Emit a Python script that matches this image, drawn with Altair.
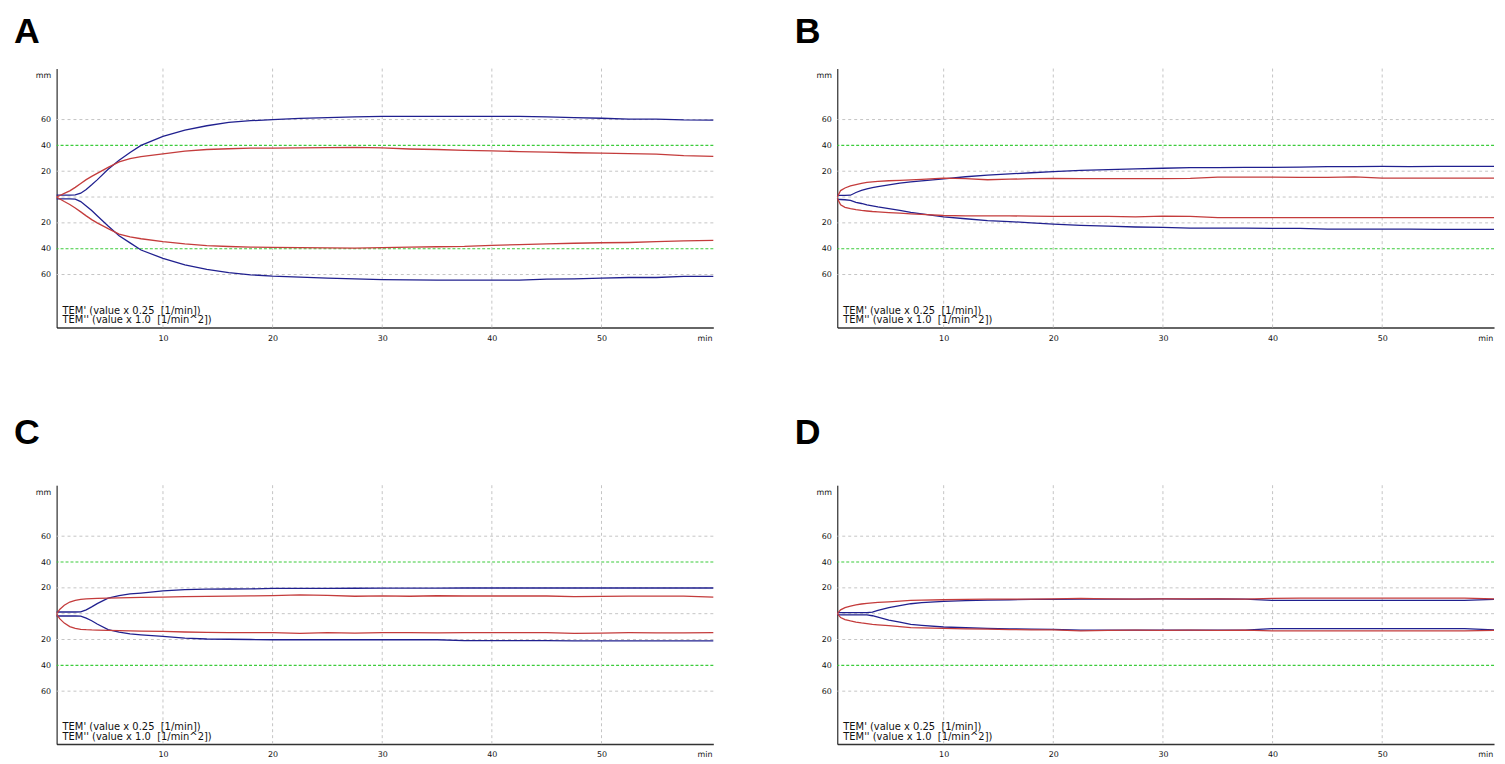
import altair as alt
import pandas as pd

# ---------------- data ----------------
t_min = [0.3, 0.6, 1, 1.5, 2, 2.5, 3, 3.5, 4, 5, 6, 7, 8, 10, 12, 14, 16, 18, 20,
         22.5, 25, 27.5, 30, 32.5, 35, 37.5, 40, 42.5, 45, 47.5, 50, 52.5, 55, 57.5, 60.2]

# Panel A
a_blue_up = [1.5, 1.5, 1.5, 1.5, 1.6, 3, 5.9, 9.5, 13.3, 21.5, 28.5, 34.5, 40, 47, 51.8, 55.2, 57.8, 59.1, 60,
             60.9, 61.5, 62.1, 62.5, 62.5, 62.5, 62.5, 62.5, 62.5, 62, 61.5, 61, 60.4, 60.4, 59.7, 59.6]
a_red_up = [0, 1.2, 2.8, 4.8, 7.5, 10.5, 13.5, 16, 18.3, 23, 27.2, 29.8, 31.3, 33.5, 35.6, 36.8, 37.4, 37.8, 37.9,
            38.1, 38.3, 38.4, 38, 37.2, 36.8, 36.2, 35.8, 35.2, 34.8, 34.3, 34, 33.6, 33.2, 32, 31.5]
a_blue_lo = [-1.5, -1.5, -1.5, -1.5, -1.6, -3.5, -6.9, -10.5, -14.5, -22.5, -30, -35.5, -41, -47.5, -52.5, -56, -58.6, -60.2, -61.3,
             -62.1, -62.8, -63.4, -64, -64.2, -64.3, -64.3, -64.3, -64.3, -63.6, -63.4, -62.8, -62.3, -62.3, -61.5, -61.5]
a_red_lo = [0, -1.5, -3.5, -5.8, -8.5, -11.5, -14.6, -17.5, -20, -24.5, -28.7, -30.8, -32.3, -34.6, -36.3, -37.6, -38.3, -38.8, -39,
            -39.2, -39.4, -39.5, -39.2, -38.8, -38.5, -38.2, -37.4, -36.8, -36.2, -35.8, -35.4, -35.2, -34.6, -34, -33.6]

# Panel B
b_blue_up = [1.3, 1.3, 1.3, 1.4, 3.5, 5.2, 6.3, 7.2, 8.1, 9.5, 10.7, 11.8, 12.6, 14.1, 15.7, 17, 17.9, 18.8, 19.7,
             20.6, 21.3, 21.8, 22.3, 22.8, 22.8, 22.9, 23, 23.2, 23.5, 23.6, 23.7, 23.6, 23.8, 23.8, 23.8]
b_red_up = [0, 5, 7, 8.6, 9.6, 10.6, 11.3, 11.8, 12.1, 12.6, 12.9, 13.3, 13.7, 14.6, 14.2, 13.4, 13.8, 14.2, 14.5,
            14.2, 14.3, 14.2, 14.2, 14.4, 15.4, 15.4, 15.4, 15.3, 15.3, 15.6, 14.6, 14.6, 14.6, 14.6, 14.6]
b_blue_lo = [-1.8, -1.9, -2.1, -2.6, -4.2, -5, -6, -6.8, -7.7, -9, -10.3, -11.8, -13, -15.4, -16.8, -18.2, -19, -20, -21,
             -21.9, -22.6, -23.2, -23.5, -24.1, -24.1, -24.1, -24.2, -24.3, -24.9, -24.9, -24.9, -24.9, -25, -25, -25]
b_red_lo = [-1, -6, -8, -9, -9.8, -10.4, -10.8, -11.2, -11.5, -12, -12.5, -13, -13.5, -14.3, -14.6, -14.6, -14.6, -14.8, -14.9,
            -14.9, -15, -15.3, -14.8, -15, -15.9, -15.9, -15.9, -15.9, -15.9, -15.9, -16, -16, -16, -16, -16]

# Panel C
c_blue_up = [1.3, 1.3, 1.3, 1.3, 1.3, 1.4, 3, 5.3, 7.8, 12.1, 14, 15.3, 16, 17.6, 18.7, 19, 19.1, 19.2, 19.6,
             19.6, 19.6, 19.7, 19.8, 19.8, 19.8, 19.9, 19.9, 19.9, 19.9, 19.9, 19.9, 19.9, 19.9, 19.9, 19.9]
c_red_up = [0, 3.5, 6.5, 9, 10.3, 11.1, 11.4, 11.7, 11.9, 12.1, 12.3, 12.5, 12.7, 12.9, 13.2, 13.4, 13.6, 13.8, 14,
            14.5, 14.2, 13.5, 13.8, 13.5, 13.9, 13.7, 13.7, 13.7, 13.7, 13.2, 13.4, 13.6, 13.6, 13.6, 12.9]
c_blue_lo = [-1.8, -1.8, -1.8, -1.8, -1.8, -1.9, -3.5, -5.5, -8, -12.4, -14.3, -15.7, -16.4, -17.6, -19, -19.6, -19.8, -20, -20.2,
             -20.2, -20.2, -20.2, -20.2, -20.2, -20.2, -20.9, -20.9, -20.9, -20.9, -21, -21, -21, -21, -21, -21]
c_red_lo = [-0.5, -4, -7.3, -10, -11.3, -12.1, -12.4, -12.6, -12.7, -12.9, -13.1, -13.3, -13.5, -13.7, -14.2, -14.5, -14.6, -14.7, -14.7,
            -15.2, -14.7, -15, -14.7, -14.6, -14.8, -14.7, -14.7, -14.7, -14.7, -15.2, -15, -14.7, -14.8, -14.8, -14.7]

# Panel D
d_blue_up = [0.8, 0.8, 0.8, 0.8, 0.8, 0.8, 0.8, 1.2, 2.5, 4.7, 6.3, 7.7, 8.5, 9.6, 10.1, 10.5, 10.8, 11, 11.1,
             11.3, 11.2, 11.2, 11.4, 11.3, 11.5, 11.2, 10.3, 10.3, 10.3, 10.3, 10.3, 10.3, 10.3, 10.3, 11]
d_red_up = [0, 3, 4.7, 5.9, 6.9, 7.5, 8, 8.4, 8.7, 9.2, 9.8, 10.3, 10.5, 10.8, 11.1, 11.3, 11.3, 11.3, 11.5,
            11.8, 11.5, 11.3, 11.5, 11.4, 11.5, 11.3, 11.9, 12, 12, 12, 12, 12, 12, 12, 11.5]
d_blue_lo = [-1, -1, -1, -1, -1, -1, -1, -1.6, -2.7, -4.9, -6.6, -8.2, -9, -10.3, -10.9, -11.3, -11.7, -12, -12.2,
             -12.8, -12.8, -12.8, -12.8, -12.8, -12.8, -12.8, -11.5, -11.5, -11.5, -11.5, -11.5, -11.5, -11.5, -11.5, -12.6]
d_red_lo = [0, -3, -4.6, -5.6, -6.5, -7.2, -7.7, -8.2, -8.6, -9.3, -10.1, -10.8, -11, -11.3, -11.7, -12, -12.3, -12.5, -12.6,
            -13.3, -13, -12.8, -12.9, -12.8, -12.9, -12.8, -13.3, -13.3, -13.3, -13.3, -13.3, -13.3, -13.3, -13.3, -13]

panel_letters = ["A", "B", "C", "D"]
grey_levels = [60, 20, 0, -20, -60]
green_levels = [40, -40]
minute_grid = [10, 20, 30, 40, 50]
y_tick_values = [-60, -40, -20, 20, 40, 60, 94]
x_tick_values = [10, 20, 30, 40, 50, 59.4]
note_text = "TEM' (value x 0.25\u00a0 [1/min])\nTEM'' (value x 1.0\u00a0 [1/min^2])"

# ---------------- style ----------------
W, H = 662, 261
BLUE = "#20208f"
RED = "#c43c3c"
FONT = "DejaVu Sans"
x_scale = alt.Scale(domain=[0.3, 60.2], nice=False, zero=False)
y_scale = alt.Scale(domain=[-101, 99.5], nice=False, zero=False)
x_axis = alt.Axis(
    values=x_tick_values, title=None, grid=False, ticks=False, tickSize=0,
    labelExpr="datum.value > 59 ? 'min' : datum.label",
    domainColor="#333333", domainWidth=1.5, labelPadding=7,
    labelFont=FONT, labelFontSize=8, labelColor="#111111", labelFlush=False)
y_axis = alt.Axis(
    values=y_tick_values, title=None, grid=False, ticks=False, tickSize=0,
    labelExpr="datum.value > 90 ? 'mm' : format(abs(datum.value), 'd')",
    domainColor="#000000", domainWidth=1, labelPadding=6,
    labelFont=FONT, labelFontSize=8, labelColor="#111111", labelFlush=False)


def panel(letter, blue_up, blue_lo, red_up, red_lo, title_offset):
    rows = []
    for name, vals in [("blue_up", blue_up), ("blue_lo", blue_lo), ("red_up", red_up), ("red_lo", red_lo)]:
        for t, v in zip(t_min, vals):
            rows.append({"t": t, "mm": v, "trace": name})
    df = pd.DataFrame(rows)

    hgrey = alt.Chart(pd.DataFrame({"mm": grey_levels})).mark_rule(
        color="#c4c4c4", strokeDash=[3, 3], strokeWidth=1
    ).encode(y=alt.Y("mm:Q", scale=y_scale, axis=y_axis))
    hgreen = alt.Chart(pd.DataFrame({"mm": green_levels})).mark_rule(
        color="#3ccc3c", strokeDash=[3, 2], strokeWidth=1.1
    ).encode(y=alt.Y("mm:Q", scale=y_scale, axis=y_axis))
    vgrid = alt.Chart(pd.DataFrame({"t": minute_grid})).mark_rule(
        color="#c4c4c4", strokeDash=[3, 3], strokeWidth=1
    ).encode(x=alt.X("t:Q", scale=x_scale, axis=x_axis))

    lines = alt.Chart(df).mark_line(strokeWidth=1.3).encode(
        x=alt.X("t:Q", scale=x_scale, axis=x_axis),
        y=alt.Y("mm:Q", scale=y_scale, axis=y_axis),
        color=alt.Color("trace:N", legend=None, scale=alt.Scale(
            domain=["blue_up", "blue_lo", "red_up", "red_lo"], range=[BLUE, BLUE, RED, RED])),
        detail="trace:N",
    )

    note = alt.Chart(pd.DataFrame({"note": [note_text]})).mark_text(
        align="left", baseline="alphabetic", font=FONT, fontSize=10, lineBreak="\n",
        lineHeight=10, color="#111111"
    ).encode(x=alt.value(6), y=alt.value(H - 14), text="note:N")

    return alt.layer(hgrey, hgreen, vgrid, lines, note).properties(
        width=W, height=H,
        title=alt.TitleParams(letter, anchor="start", frame="group", fontSize=36, fontWeight="bold",
                              font="Liberation Sans", color="#000000", dx=-43,
                              baseline="alphabetic", offset=title_offset),
    )


pA = panel("A", a_blue_up, a_blue_lo, a_red_up, a_red_lo, -11)
pB = panel("B", b_blue_up, b_blue_lo, b_red_up, b_red_lo, -11)
pC = panel("C", c_blue_up, c_blue_lo, c_red_up, c_red_lo, 5)
pD = panel("D", d_blue_up, d_blue_lo, d_red_up, d_red_lo, 5)

row1 = alt.hconcat(pA, pB, spacing=79)
row2 = alt.hconcat(pC, pD, spacing=79)
chart = alt.vconcat(row1, row2, spacing=73).properties(
    padding={"left": 6, "top": 3, "right": 0, "bottom": 0}
).configure_view(stroke=None)

chart.save("out.html", embed_options={"renderer": "svg", "actions": False})
